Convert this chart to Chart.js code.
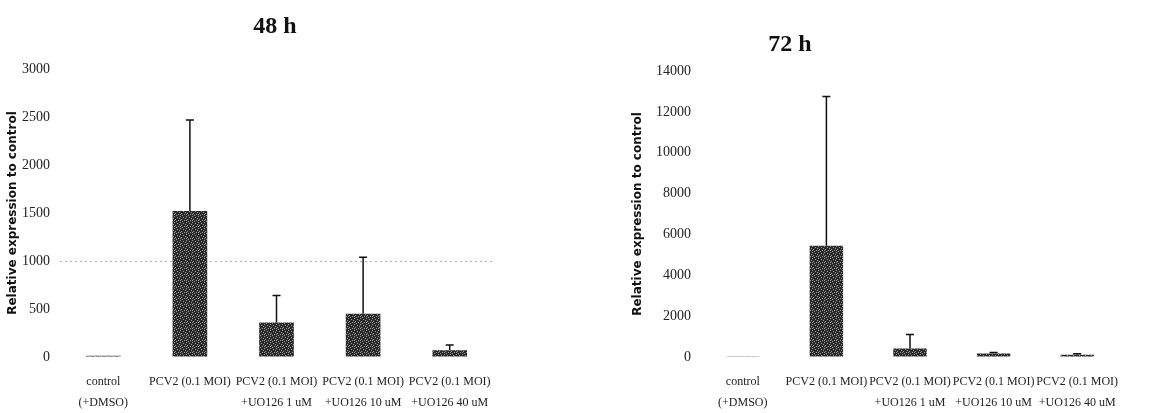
<!DOCTYPE html>
<html>
<head>
<meta charset="utf-8">
<script src="https://cdn.jsdelivr.net/npm/chart.js@4"></script>
<style>
  body { margin: 0; background: #fff; overflow: hidden; }
  .wrap { position: absolute; top: 0; height: 419px; }
  #left { left: 0; width: 587px; }
  #right { left: 620px; width: 555px; }
</style>
</head>
<body>
<div class="wrap" id="left"><canvas id="chart48"></canvas></div>
<div class="wrap" id="right"><canvas id="chart72"></canvas></div>
<script>
// categories
var categories = [
    ['control', '(+DMSO)'],
    ['PCV2 (0.1 MOI)'],
    ['PCV2 (0.1 MOI)', '+UO126 1 uM'],
    ['PCV2 (0.1 MOI)', '+UO126 10 uM'],
    ['PCV2 (0.1 MOI)', '+UO126 40 uM']
];

// 48 h values and upper error
var values48 = [12, 1520, 360, 450, 70];
var errors48 = [0, 950, 280, 590, 55];

// 72 h values and upper error
var values72 = [40, 5450, 420, 170, 110];
var errors72 = [0, 7300, 680, 50, 50];

//speckled fill for the bars
function makePattern() {
    var c = document.createElement('canvas');
    c.width = 6; c.height = 6;
    var g = c.getContext('2d');
    g.fillStyle = '#2a2a2a';
    g.fillRect(0, 0, 6, 6);
    g.fillStyle = '#9a9a9a';
    var dots = [[0,0],[3,1],[5,2],[1,3],[4,4],[2,5],[0,4]];
    dots.forEach(function (d) { g.fillRect(d[0], d[1], 1, 1); });
    return g.createPattern(c, 'repeat');
}

//error bar plugin, only the upper whisker
var errorBars = {
    id: 'errorBars',
    afterDatasetsDraw: function (chart, args, opts) {
        var ctx = chart.ctx;
        var yScale = chart.scales.y;
        var meta = chart.getDatasetMeta(0);
        var vals = chart.data.datasets[0].data;
        ctx.save();
        ctx.strokeStyle = '#111';
        ctx.lineWidth = 1.5;
        meta.data.forEach(function (bar, i) {
            var err = opts.errors[i];
            if (!err) return;
            var y0 = yScale.getPixelForValue(vals[i]);
            var y1 = yScale.getPixelForValue(vals[i] + err);
            ctx.beginPath();
            ctx.moveTo(bar.x, y0);
            ctx.lineTo(bar.x, y1);
            ctx.moveTo(bar.x - 4, y1);
            ctx.lineTo(bar.x + 4, y1);
            ctx.stroke();
        });
        ctx.restore();
    }
};

//panel title at a fixed spot
var panelTitle = {
    id: 'panelTitle',
    afterDraw: function (chart, args, opts) {
        var ctx = chart.ctx;
        ctx.save();
        ctx.fillStyle = '#111';
        ctx.font = 'bold 24px "Liberation Serif"';
        ctx.textAlign = 'center';
        ctx.textBaseline = 'middle';
        ctx.fillText(opts.text, opts.x, opts.y);
        ctx.restore();
    }
};

function makeChart(id, title, values, errors, max, step, yWidth, pad, titlePos, faintLine) {
    var ctx = document.getElementById(id).getContext('2d');
    return new Chart(ctx, {
        type: 'bar',
        data: {
            labels: categories,
            datasets: [{
                data: values,
                backgroundColor: makePattern(),
                borderWidth: 0,
                categoryPercentage: 1,
                barPercentage: 0.4
            }]
        },
        options: {
            responsive: true,
            maintainAspectRatio: false,
            animation: false,
            layout: { padding: pad },
            plugins: {
                legend: { display: false },
                tooltip: { enabled: false },
                title: { display: false },
                panelTitle: { text: title, x: titlePos[0], y: titlePos[1] },
                errorBars: { errors: errors }
            },
            scales: {
                x: {
                    grid: { display: false },
                    border: { display: false },
                    ticks: {
                        color: '#222',
                        maxRotation: 0,
                        autoSkip: false,
                        padding: 6,
                        font: { family: 'Liberation Serif', size: 12, lineHeight: 1.75 }
                    }
                },
                y: {
                    min: 0,
                    max: max,
                    afterFit: function (scale) { scale.width = yWidth; },
                    border: { display: false, dash: [2, 3] },
                    grid: {
                        drawTicks: false,
                        color: function (c) {
                            return c.tick && c.tick.value === faintLine ? '#b0b0b0' : 'rgba(0,0,0,0)';
                        },
                        lineWidth: 1
                    },
                    ticks: {
                        stepSize: step,
                        color: '#222',
                        padding: 10,
                        font: { family: 'Liberation Serif', size: 14 },
                        callback: function (v) { return String(v); }
                    },
                    title: {
                        display: true,
                        text: 'Relative expression to control',
                        color: '#111',
                        font: { family: 'DejaVu Sans', size: 12, weight: 'bold' },
                        padding: { top: 0, bottom: 0 }
                    }
                }
            }
        },
        plugins: [errorBars, panelTitle]
    });
}

makeChart('chart48', '48 h', values48, errors48, 3000, 500, 54,
    { left: 6, right: 94, top: 69, bottom: 0 }, [275, 27], 1000);
makeChart('chart72', '72 h', values72, errors72, 14000, 2000, 70,
    { left: 11, right: 56, top: 71, bottom: 0 }, [170, 45], null);
</script>
</body>
</html>
